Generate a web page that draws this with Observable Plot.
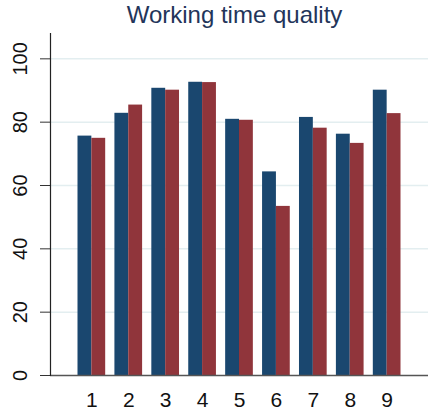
<!DOCTYPE html>
<html>
<head>
<meta charset="utf-8">
<script src="https://cdn.jsdelivr.net/npm/d3@7"></script>
<script src="https://cdn.jsdelivr.net/npm/@observablehq/plot@0.6"></script>
<style>
  html, body { margin: 0; padding: 0; background: #fff; }
  #wrap { width: 435px; height: 413px; position: relative; font-family: "Liberation Sans", Arial, sans-serif; }
  #title { height: 30px; line-height: 30px; font-size: 24px; color: #23355a; text-align: center; width: 435px; padding-left: 34px; box-sizing: border-box; }
  svg { display: block; }
</style>
</head>
<body>
<div id="wrap"><div id="title">Working time quality</div></div>
<script>
const categories = ["1", "2", "3", "4", "5", "6", "7", "8", "9"];
const seriesA = [75.6, 82.8, 90.7, 92.6, 80.9, 64.3, 81.5, 76.2, 90.1];
const seriesB = [74.9, 85.4, 90.1, 92.5, 80.6, 53.4, 78.1, 73.3, 82.7];
const yTicks = [0, 20, 40, 60, 80, 100];
const gridTicks = [20, 40, 60, 80, 100];

const dataA = categories.map((c, i) => ({cat: c, value: seriesA[i]}));
const dataB = categories.map((c, i) => ({cat: c, value: seriesB[i]}));

const half = 13.84;

const chart = Plot.plot({
  width: 435,
  height: 383,
  marginLeft: 50,
  marginRight: 7,
  marginTop: 3,
  marginBottom: 38,
  style: {fontFamily: "Liberation Sans, Arial, sans-serif", background: "#fff"},
  x: {type: "band", domain: categories, paddingInner: 0.25, paddingOuter: 0.745, round: false, axis: null},
  y: {domain: [0, 108], axis: null},
  marks: [
    Plot.ruleY(gridTicks, {stroke: "#e3eef0", strokeWidth: 1.5}),
    Plot.barY(dataA, {x: "cat", y: "value", fill: "#1a476f", insetRight: half, insetLeft: 0}),
    Plot.barY(dataB, {x: "cat", y: "value", fill: "#90353b", insetLeft: half, insetRight: 0}),
    Plot.ruleY([0], {stroke: "#555", strokeWidth: 1.5}),
    Plot.axisY({ticks: yTicks, label: null, tickSize: 10, tickPadding: 14, tickRotate: -90, fontSize: 20, stroke: "#333", color: "#111"}),
    Plot.frame({anchor: "left", stroke: "#222", strokeWidth: 1.2}),
    Plot.axisX({label: null, tickSize: 0, tickPadding: 17, fontSize: 21, color: "#111"})
  ]
});
document.getElementById("wrap").appendChild(chart);
</script>
</body>
</html>
